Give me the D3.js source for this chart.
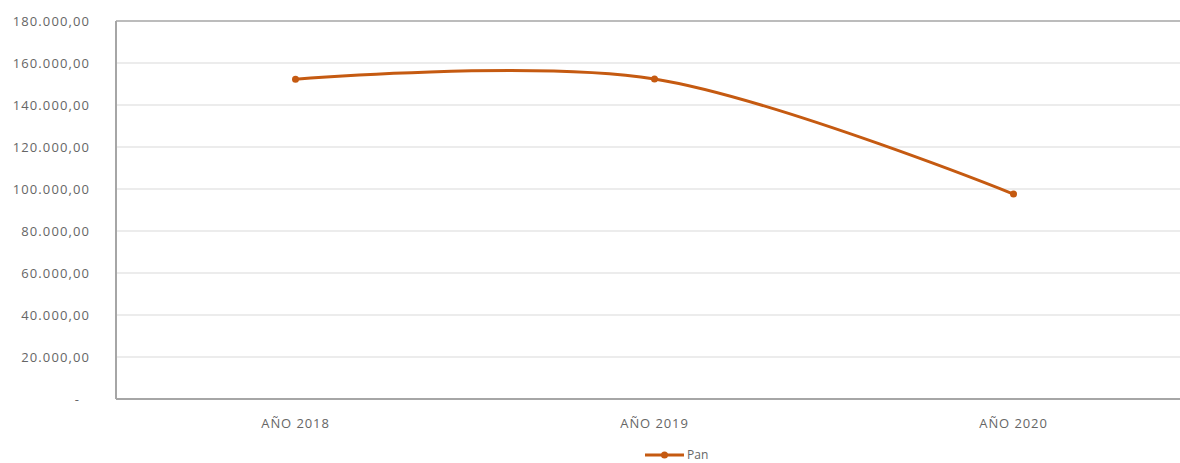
<!DOCTYPE html>
<html><head><meta charset="utf-8">
<script src="https://cdn.jsdelivr.net/npm/d3@7"></script>
<style>body{margin:0;background:#fff;overflow:hidden}svg{display:block}</style>
</head><body><svg id="c" width="1180" height="463"></svg>
<script>
const categories = ["AÑO 2018", "AÑO 2019", "AÑO 2020"];
const seriesName = "Pan";
const panValues = [152300, 152400, 97600];
const yTicks = [0, 20000, 40000, 60000, 80000, 100000, 120000, 140000, 160000, 180000];

(function () {
const svg = d3.select("#c");
const mLeft = 116, mTop = 21, mBottom = 399, mRight = 116 + 3 * 359;
const x = d3.scaleBand().domain(categories).range([mLeft, mRight]);
const y = d3.scaleLinear().domain([0, 180000]).range([mBottom, mTop]);
const nf = d3.formatLocale({decimal: ",", thousands: ".", grouping: [3]}).format(",.2f");
const fmt = v => v === 0 ? "-" : nf(v);
const font = "'Open Sans', 'Liberation Sans', sans-serif";
const txt = "#666666";

// gridlines
svg.append("g").selectAll("line").data(yTicks.filter(v => v > 0 && v < 180000)).join("line")
  .attr("x1", mLeft).attr("x2", 1180).attr("y1", d => y(d)).attr("y2", d => y(d))
  .attr("stroke", "#d9d9d9").attr("stroke-width", 1);
// frame
svg.append("line").attr("x1", mLeft).attr("x2", 1180).attr("y1", y(180000)).attr("y2", y(180000)).attr("stroke", "#a6a6a6").attr("stroke-width", 1.5);
svg.append("line").attr("x1", mLeft).attr("x2", 1180).attr("y1", y(0)).attr("y2", y(0)).attr("stroke", "#a6a6a6").attr("stroke-width", 2);
svg.append("line").attr("x1", mLeft).attr("x2", mLeft).attr("y1", y(180000)).attr("y2", y(0)).attr("stroke", "#a6a6a6").attr("stroke-width", 2);

// y labels
svg.append("g").selectAll("text").data(yTicks).join("text")
  .attr("x", d => d === 0 ? 80 : 90).attr("y", d => y(d)).attr("dy", "0.35em")
  .attr("text-anchor", "end").attr("font-family", font).attr("font-size", 13)
  .attr("letter-spacing", 1.1).attr("fill", txt).text(fmt);

// x labels
svg.append("g").selectAll("text").data(categories).join("text")
  .attr("x", d => x(d) + x.bandwidth() / 2).attr("y", 423).attr("dy", "0.35em")
  .attr("text-anchor", "middle").attr("font-family", font).attr("font-size", 13)
  .attr("letter-spacing", 0.9).attr("fill", txt).text(d => d);

const color = "#c55a11";
const line = d3.line().x((d, i) => x(categories[i]) + x.bandwidth() / 2).y(d => y(d)).curve(d3.curveCatmullRom.alpha(0));
svg.append("path").datum(panValues).attr("d", line).attr("fill", "none").attr("stroke", color).attr("stroke-width", 3).attr("stroke-linecap", "round");
svg.append("g").selectAll("circle").data(panValues).join("circle")
  .attr("cx", (d, i) => x(categories[i]) + x.bandwidth() / 2).attr("cy", d => y(d)).attr("r", 3.5).attr("fill", color);

// legend
const lg = svg.append("g");
lg.append("line").attr("x1", 645).attr("x2", 684).attr("y1", 455).attr("y2", 455).attr("stroke", color).attr("stroke-width", 3);
lg.append("circle").attr("cx", 664.5).attr("cy", 455).attr("r", 3.5).attr("fill", color);
lg.append("text").attr("x", 687).attr("y", 455).attr("dy", "0.35em").attr("font-family", font).attr("font-size", 12).attr("fill", txt).text(seriesName);
})();
</script></body></html>
